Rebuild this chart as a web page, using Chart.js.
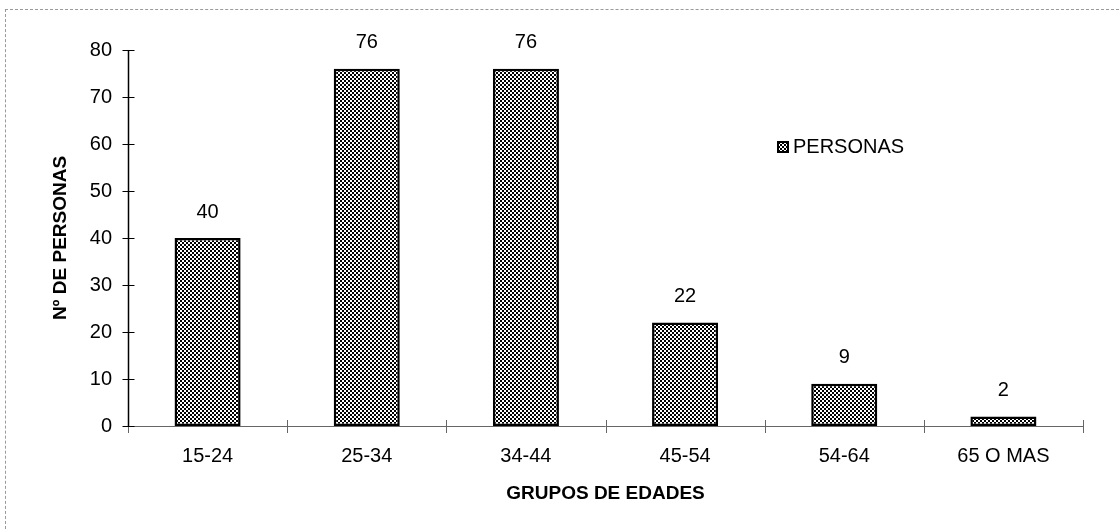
<!DOCTYPE html>
<html>
<head>
<meta charset="utf-8">
<script src="https://cdn.jsdelivr.net/npm/chart.js@4"></script>
<style>
  html, body { margin: 0; padding: 0; background: #fff; }
  #wrap { position: relative; width: 1119px; height: 529px; }
  #frame { position: absolute; left: 5px; top: 9px; width: 1114px; height: 520px;
           border-top: 1px dashed #9a9a9a; border-left: 1px dashed #9a9a9a; box-sizing: border-box; }
  canvas { position: absolute; left: 0; top: 0; }
</style>
</head>
<body>
<div id="wrap">
  <div id="frame"></div>
  <canvas id="c" width="1119" height="529"></canvas>
</div>
<script>
// Age groups and number of people in each
const categories = ['15-24', '25-34', '34-44', '45-54', '54-64', '65 O MAS'];
const personas = [40, 76, 76, 22, 9, 2];
const yTicks = [0, 10, 20, 30, 40, 50, 60, 70, 80];
const seriesLabel = 'PERSONAS';
const xTitle = 'GRUPOS DE EDADES';
const yTitle = 'Nº DE PERSONAS';

const FONT = '"Liberation Sans", Arial, sans-serif';

// fine black/white checker used as bar fill
function checker() {
  const p = document.createElement('canvas');
  p.width = 4; p.height = 4;
  const g = p.getContext('2d');
  g.fillStyle = '#fff'; g.fillRect(0, 0, 4, 4);
  g.fillStyle = '#000';
  g.fillRect(0, 0, 2, 2);
  g.fillRect(2, 2, 2, 2);
  return g.createPattern(p, 'repeat');
}
const ctx = document.getElementById('c').getContext('2d');
const fill = checker();

// axis lines with ticks crossing both sides
const axesPlugin = {
  id: 'axes',
  afterDatasetsDraw(chart) {
    const { ctx, chartArea, scales: { x, y } } = chart;
    const y0 = y.getPixelForValue(0);
    ctx.save();
    ctx.strokeStyle = '#666';
    ctx.lineWidth = 1;
    ctx.beginPath();
    ctx.moveTo(chartArea.left, y0 + 0.5);
    ctx.lineTo(chartArea.right, y0 + 0.5);
    for (let i = 0; i <= categories.length; i++) {
      const px = Math.round(x.getPixelForValue(i - 0.5)) + 0.5;
      ctx.moveTo(px, y0 - 6);
      ctx.lineTo(px, y0 + 7);
    }
    ctx.stroke();
    ctx.strokeStyle = '#000';
    ctx.lineWidth = 1.5;
    ctx.beginPath();
    const ax = chartArea.left + 0.5;
    ctx.moveTo(ax, y.getPixelForValue(80));
    ctx.lineTo(ax, y0);
    ctx.stroke();
    ctx.lineWidth = 1;
    ctx.beginPath();
    yTicks.forEach(v => {
      const py = Math.round(y.getPixelForValue(v)) + 0.5;
      ctx.moveTo(ax - 6, py);
      ctx.lineTo(ax + 6, py);
    });
    ctx.stroke();
    ctx.restore();
  }
};

// value labels above bars and the legend entry
const labelsPlugin = {
  id: 'valueLabels',
  afterDatasetsDraw(chart) {
    const { ctx } = chart;
    const meta = chart.getDatasetMeta(0);
    ctx.save();
    ctx.fillStyle = '#000';
    ctx.font = '20px ' + FONT;
    ctx.textAlign = 'center';
    ctx.textBaseline = 'bottom';
    meta.data.forEach((bar, i) => {
      const { x: bx, y: by } = bar.getProps(['x', 'y'], true);
      ctx.fillText(String(chart.data.datasets[0].data[i]), bx, by - 16);
    });
    // legend
    const lx = 777, ly = 141;
    ctx.fillStyle = fill;
    ctx.fillRect(lx, ly, 12, 12);
    ctx.strokeStyle = '#000';
    ctx.lineWidth = 2;
    ctx.strokeRect(lx + 1, ly + 1, 10, 10);
    ctx.fillStyle = '#000';
    ctx.textAlign = 'left';
    ctx.textBaseline = 'middle';
    ctx.font = '20px ' + FONT;
    ctx.fillText(seriesLabel, lx + 16, ly + 6);
    ctx.restore();
  }
};

new Chart(ctx, {
  type: 'bar',
  data: {
    labels: categories,
    datasets: [{
      label: seriesLabel,
      data: personas,
      backgroundColor: fill,
      borderColor: '#000',
      borderWidth: 2.5,
      borderSkipped: false,
      categoryPercentage: 1,
      barPercentage: 0.415
    }]
  },
  options: {
    responsive: false,
    animation: false,
    layout: { padding: { top: 50, right: 36, left: 0, bottom: 0 } },
    plugins: { legend: { display: false }, tooltip: { enabled: false } },
    scales: {
      x: {
        offset: true,
        grid: { display: false, drawTicks: false },
        border: { display: false },
        ticks: { color: '#000', font: { family: FONT, size: 20 }, padding: 18, maxRotation: 0 },
        title: { display: true, text: xTitle, color: '#000',
                 font: { family: FONT, size: 19, weight: 'bold' }, padding: { top: 0, bottom: 24 } },
        afterFit(s) { s.height = 103; }
      },
      y: {
        min: 0, max: 80,
        afterBuildTicks(s) { s.ticks = yTicks.map(v => ({ value: v })); },
        grid: { display: false, drawTicks: false },
        border: { display: false },
        ticks: { color: '#000', font: { family: FONT, size: 20 }, padding: 16 },
        title: { display: true, text: yTitle, color: '#000',
                 font: { family: FONT, size: 19, weight: 'bold' }, padding: { top: 49, bottom: 0 } },
        afterFit(s) { s.width = 128; }
      }
    }
  },
  plugins: [axesPlugin, labelsPlugin]
});
</script>
</body>
</html>
